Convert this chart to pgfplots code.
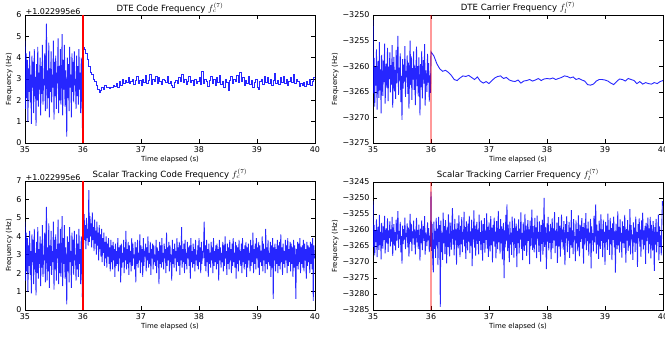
\documentclass[border=0pt]{standalone}
\usepackage{pgfplots}
\usepackage{pgfplotstable}
\pgfplotsset{compat=1.18}
\usepackage{fontspec}
\setmainfont{DejaVu Sans}

% code frequency before DTE start (35.00..35.99), shared by both code plots
\pgfplotstableread[row sep=\\]{y\\
4.8\\1.6\\4.2\\2.1\\3.9\\1.0\\3.5\\2.4\\4.3\\1.9\\
3.2\\0.9\\4.1\\2.6\\3.8\\1.4\\4.4\\2.2\\3.1\\0.8\\
3.7\\2.0\\4.5\\1.7\\3.3\\2.5\\4.0\\1.3\\3.6\\2.3\\
4.6\\1.8\\3.0\\2.7\\4.2\\1.5\\3.9\\5.6\\1.6\\3.4\\
2.1\\4.7\\1.2\\3.5\\2.4\\4.3\\1.9\\3.2\\2.6\\4.8\\
1.1\\3.8\\2.2\\4.1\\1.6\\3.3\\2.8\\4.9\\1.4\\3.6\\
2.0\\4.4\\1.8\\3.1\\5.1\\1.3\\3.9\\2.5\\4.6\\1.7\\
3.4\\2.3\\0.3\\4.0\\2.1\\3.7\\1.5\\4.5\\2.6\\3.2\\
1.2\\4.2\\2.4\\3.8\\1.9\\4.3\\2.7\\3.0\\1.6\\4.1\\
2.2\\3.6\\1.8\\4.4\\2.5\\3.3\\1.4\\4.0\\3.1\\0.7\\
}\codepre

% scalar tracking code frequency (35.99..40.00)
\pgfplotstableread[row sep=\\]{y\\
0.7\\
4.9\\3.6\\5.2\\3.8\\4.6\\3.3\\5.0\\3.9\\4.4\\3.5\\
6.5\\3.7\\5.1\\4.0\\4.7\\3.4\\5.3\\3.8\\4.5\\3.2\\
4.9\\3.6\\4.3\\3.0\\4.8\\3.5\\4.2\\2.7\\4.6\\3.3\\
4.1\\2.9\\4.4\\2.6\\3.9\\3.1\\4.2\\2.4\\3.7\\2.8\\
4.0\\2.3\\3.6\\2.9\\3.9\\2.5\\3.4\\2.1\\3.8\\2.6\\
3.5\\2.2\\3.7\\2.7\\3.3\\1.8\\3.6\\2.4\\3.2\\2.5\\
3.9\\2.1\\3.4\\2.8\\3.5\\1.5\\3.6\\2.3\\3.1\\2.6\\
3.8\\2.0\\3.4\\2.7\\4.3\\2.2\\3.3\\2.5\\3.7\\1.9\\
3.5\\2.6\\3.2\\2.1\\3.9\\2.4\\3.6\\2.8\\3.0\\2.2\\
3.7\\1.5\\3.4\\2.5\\3.8\\2.3\\3.1\\2.7\\4.1\\2.0\\
3.5\\2.6\\3.3\\1.8\\3.9\\2.4\\3.2\\2.9\\3.6\\2.1\\
3.4\\2.7\\4.0\\2.3\\3.1\\2.5\\3.7\\1.9\\3.3\\2.8\\
3.6\\2.2\\3.5\\2.6\\3.0\\2.4\\3.8\\2.0\\3.4\\2.7\\
3.2\\1.4\\3.7\\2.5\\3.5\\2.3\\3.9\\2.6\\3.1\\2.2\\
3.6\\2.8\\3.3\\2.0\\4.2\\2.4\\3.4\\2.7\\3.7\\2.1\\
3.5\\2.6\\3.0\\1.6\\3.8\\2.5\\3.3\\2.3\\3.6\\2.8\\
3.2\\2.1\\3.9\\2.6\\3.4\\2.4\\3.7\\1.9\\3.5\\2.7\\
4.5\\2.3\\3.3\\2.6\\3.6\\2.0\\3.8\\2.5\\3.1\\2.2\\
3.7\\2.8\\3.4\\2.4\\3.5\\1.7\\3.9\\2.6\\3.2\\2.3\\
3.6\\2.5\\3.3\\2.1\\3.8\\2.7\\3.0\\2.4\\3.5\\2.2\\
3.9\\2.6\\3.4\\2.0\\3.7\\2.5\\3.2\\2.8\\3.6\\4.8\\
2.4\\3.5\\2.1\\3.8\\2.6\\3.3\\1.8\\3.6\\2.5\\3.1\\
2.3\\3.7\\2.7\\3.4\\2.0\\3.9\\2.4\\3.2\\2.6\\3.5\\
2.2\\3.6\\2.5\\3.3\\1.6\\3.8\\2.7\\3.4\\2.3\\3.1\\
2.6\\3.7\\2.1\\3.5\\2.4\\4.0\\2.8\\3.2\\1.9\\3.6\\
2.5\\3.4\\2.2\\3.8\\2.7\\3.3\\2.0\\3.6\\2.4\\3.9\\
2.6\\3.1\\2.3\\3.7\\1.7\\3.5\\2.5\\3.4\\2.1\\3.8\\
2.7\\3.2\\2.4\\3.6\\2.0\\3.9\\2.6\\3.3\\2.2\\3.5\\
2.5\\3.7\\1.8\\3.4\\2.3\\3.6\\2.7\\3.1\\2.1\\3.8\\
2.4\\3.5\\2.6\\4.2\\2.0\\3.3\\2.5\\3.6\\2.2\\3.9\\
2.8\\3.4\\2.3\\3.7\\1.9\\3.5\\2.6\\3.2\\2.4\\4.0\\
2.1\\3.6\\2.7\\3.3\\2.0\\4.4\\2.5\\3.4\\2.2\\3.8\\
2.6\\3.1\\2.4\\3.7\\1.8\\3.5\\2.3\\3.9\\0.6\\3.4\\
2.7\\3.6\\2.1\\3.3\\2.5\\3.8\\2.0\\3.5\\2.4\\3.7\\
2.2\\4.1\\2.6\\3.4\\1.9\\3.6\\2.5\\3.2\\2.3\\3.8\\
2.7\\3.5\\2.0\\3.9\\2.4\\3.3\\2.6\\3.7\\2.1\\3.6\\
2.5\\3.4\\1.8\\3.8\\2.3\\3.5\\2.7\\0.6\\3.3\\2.4\\
3.7\\2.2\\3.6\\2.6\\3.9\\2.0\\3.4\\2.5\\3.5\\2.3\\
3.8\\2.1\\3.6\\2.7\\3.3\\1.7\\3.7\\2.4\\3.5\\2.6\\
3.4\\2.0\\3.7\\2.5\\3.6\\2.2\\3.9\\0.5\\3.5\\2.8\\
}\codescalar

% carrier frequency before DTE start (35.00..35.99)
\pgfplotstableread[row sep=\\]{y\\
-3251.0\\-3265.3\\-3258.4\\-3267.9\\-3260.2\\-3263.8\\-3256.7\\-3268.5\\-3261.1\\-3259.0\\
-3266.2\\-3255.3\\-3264.7\\-3260.6\\-3269.2\\-3257.8\\-3262.9\\-3265.8\\-3258.9\\-3263.1\\
-3255.6\\-3267.3\\-3261.7\\-3259.5\\-3264.2\\-3256.4\\-3266.8\\-3260.1\\-3262.5\\-3257.3\\
-3265.1\\-3259.8\\-3263.6\\-3255.9\\-3268.1\\-3261.4\\-3258.2\\-3264.9\\-3260.7\\-3266.4\\
-3256.8\\-3263.3\\-3259.1\\-3254.1\\-3265.6\\-3260.3\\-3262.8\\-3257.5\\-3267.0\\-3261.9\\
-3270.5\\-3258.6\\-3264.4\\-3259.7\\-3263.0\\-3256.1\\-3266.0\\-3260.9\\-3262.2\\-3257.9\\
-3265.4\\-3259.3\\-3268.3\\-3261.6\\-3255.0\\-3263.7\\-3258.1\\-3266.6\\-3260.4\\-3262.6\\
-3257.1\\-3264.6\\-3259.9\\-3267.6\\-3261.2\\-3256.2\\-3263.9\\-3260.0\\-3265.9\\-3258.3\\
-3262.4\\-3269.6\\-3259.6\\-3264.1\\-3257.0\\-3266.3\\-3261.3\\-3258.8\\-3263.4\\-3255.7\\
-3267.7\\-3260.8\\-3262.1\\-3265.0\\-3257.6\\-3263.2\\-3259.4\\-3266.9\\-3261.8\\-3265.2\\
}\carrpre

% scalar tracking carrier frequency (35.99..40.00)
\pgfplotstableread[row sep=\\]{y\\
-3265.2\\
-3248.0\\-3266.5\\-3258.1\\-3269.8\\-3273.2\\-3257.4\\-3265.9\\-3260.3\\-3268.7\\-3256.2\\
-3264.8\\-3259.6\\-3271.0\\-3255.9\\-3263.7\\-3258.5\\-3284.0\\-3257.1\\-3266.8\\-3260.9\\
-3269.3\\-3254.6\\-3264.1\\-3258.8\\-3267.5\\-3256.9\\-3262.7\\-3270.4\\-3259.2\\-3265.3\\
-3255.1\\-3263.9\\-3268.2\\-3257.7\\-3261.5\\-3266.1\\-3258.3\\-3253.2\\-3264.6\\-3260.0\\
-3267.9\\-3256.5\\-3263.2\\-3259.8\\-3270.8\\-3257.9\\-3262.4\\-3265.7\\-3255.4\\-3261.2\\
-3268.5\\-3258.7\\-3264.4\\-3256.0\\-3266.9\\-3260.6\\-3263.0\\-3254.3\\-3265.1\\-3259.1\\
-3269.0\\-3257.3\\-3262.1\\-3266.4\\-3258.0\\-3263.6\\-3255.6\\-3267.2\\-3260.4\\-3264.9\\
-3256.8\\-3271.3\\-3259.5\\-3262.9\\-3253.9\\-3265.5\\-3258.6\\-3268.0\\-3261.0\\-3257.5\\
-3264.3\\-3259.9\\-3267.6\\-3255.2\\-3263.4\\-3260.7\\-3266.3\\-3257.0\\-3262.6\\-3269.6\\
-3258.2\\-3264.0\\-3256.3\\-3267.1\\-3260.2\\-3263.1\\-3254.8\\-3265.8\\-3259.0\\-3268.4\\
-3257.6\\-3262.3\\-3266.7\\-3255.7\\-3264.7\\-3259.3\\-3270.1\\-3258.4\\-3263.5\\-3256.1\\
-3265.2\\-3260.5\\-3268.9\\-3257.2\\-3262.0\\-3266.0\\-3254.0\\-3263.8\\-3259.7\\-3267.4\\
-3256.6\\-3264.2\\-3258.9\\-3269.2\\-3261.4\\-3257.8\\-3275.0\\-3260.1\\-3265.4\\-3255.3\\
-3263.3\\-3252.0\\-3266.6\\-3258.3\\-3262.8\\-3270.0\\-3257.4\\-3264.5\\-3260.8\\-3267.8\\
-3255.8\\-3263.7\\-3259.4\\-3268.6\\-3256.4\\-3262.5\\-3265.6\\-3258.0\\-3271.6\\-3260.3\\
-3264.1\\-3256.7\\-3267.3\\-3259.6\\-3263.0\\-3254.5\\-3265.9\\-3260.9\\-3269.4\\-3257.6\\
-3262.2\\-3266.5\\-3255.0\\-3264.8\\-3258.6\\-3268.1\\-3261.1\\-3256.9\\-3263.4\\-3259.8\\
-3270.7\\-3257.1\\-3265.0\\-3260.0\\-3253.6\\-3266.2\\-3258.8\\-3263.9\\-3267.0\\-3256.2\\
-3264.6\\-3259.2\\-3268.8\\-3255.5\\-3262.7\\-3260.6\\-3266.8\\-3257.3\\-3263.1\\-3269.9\\
-3258.5\\-3264.3\\-3256.8\\-3267.7\\-3261.3\\-3250.0\\-3265.3\\-3259.0\\-3262.9\\-3272.2\\
-3257.9\\-3263.6\\-3255.9\\-3266.4\\-3260.4\\-3264.0\\-3258.1\\-3269.1\\-3261.8\\-3256.4\\
-3265.7\\-3259.5\\-3263.2\\-3254.4\\-3267.2\\-3260.2\\-3264.9\\-3257.7\\-3270.3\\-3262.3\\
-3256.0\\-3265.1\\-3258.7\\-3268.3\\-3261.6\\-3255.2\\-3263.8\\-3259.9\\-3266.1\\-3257.2\\
-3264.4\\-3271.0\\-3258.2\\-3262.6\\-3255.7\\-3266.9\\-3260.7\\-3263.3\\-3257.5\\-3268.7\\
-3259.3\\-3264.7\\-3253.8\\-3265.5\\-3260.1\\-3267.5\\-3256.6\\-3263.0\\-3261.9\\-3269.7\\
-3257.0\\-3264.2\\-3259.7\\-3266.6\\-3255.4\\-3262.1\\-3268.2\\-3258.4\\-3263.7\\-3260.5\\
-3256.3\\-3265.8\\-3259.1\\-3270.5\\-3257.8\\-3264.5\\-3261.2\\-3254.7\\-3266.3\\-3259.6\\
-3263.5\\-3257.4\\-3268.0\\-3260.8\\-3264.1\\-3256.5\\-3272.0\\-3258.9\\-3263.2\\-3261.0\\
-3266.7\\-3255.6\\-3263.9\\-3259.2\\-3252.0\\-3267.4\\-3258.3\\-3264.6\\-3260.3\\-3269.0\\
-3257.1\\-3262.4\\-3265.9\\-3255.1\\-3263.4\\-3259.8\\-3268.5\\-3256.8\\-3264.0\\-3260.6\\
-3270.9\\-3257.5\\-3263.8\\-3258.6\\-3266.2\\-3254.9\\-3262.9\\-3260.0\\-3267.8\\-3256.2\\
-3264.3\\-3259.4\\-3269.4\\-3257.9\\-3263.1\\-3255.8\\-3265.4\\-3260.4\\-3273.3\\-3258.0\\
-3262.7\\-3266.0\\-3254.2\\-3264.8\\-3259.0\\-3267.1\\-3256.7\\-3263.6\\-3260.9\\-3268.6\\
-3257.3\\-3264.1\\-3258.8\\-3265.6\\-3255.3\\-3262.2\\-3270.2\\-3259.7\\-3263.3\\-3256.9\\
-3266.5\\-3260.2\\-3264.9\\-3253.5\\-3267.6\\-3258.5\\-3262.8\\-3261.4\\-3269.3\\-3257.6\\
-3263.9\\-3259.3\\-3266.8\\-3255.8\\-3264.2\\-3260.7\\-3271.5\\-3258.2\\-3262.5\\-3256.4\\
-3265.2\\-3259.9\\-3268.4\\-3257.0\\-3263.0\\-3254.6\\-3266.1\\-3260.1\\-3264.7\\-3258.7\\
-3270.6\\-3257.8\\-3263.5\\-3261.3\\-3256.1\\-3267.3\\-3259.5\\-3264.4\\-3255.9\\-3268.9\\
-3258.4\\-3263.2\\-3266.4\\-3257.2\\-3262.0\\-3272.8\\-3259.1\\-3264.6\\-3256.5\\-3267.0\\
-3260.6\\-3263.7\\-3255.2\\-3269.5\\-3258.9\\-3265.3\\-3261.7\\-3267.9\\-3257.7\\-3251.0\\
}\carrscalar

\pgfplotsset{
  myax/.style={
    scale only axis, width=290bp, height=128bp, anchor=south west,
    xmin=35, xmax=40, xtick={35,36,37,38,39,40},
    /pgf/number format/assume math mode=true,
    tick label style={font=\fontsize{8}{9}\selectfont},
    label style={font=\fontsize{7}{8}\selectfont},
    title style={font=\fontsize{8.6}{10}\selectfont, yshift=-8bp},
    xlabel={Time elapsed (s)}, ylabel={Frequency (Hz)},
    xlabel style={yshift=3bp},
    ylabel style={yshift=-3bp},
    major tick length=4bp,
    tick style={black, line width=0.5pt},
    axis line style={black, line width=0.6pt},
    clip mode=individual,
  },
  noisy/.style={draw=blue, opacity=0.85, line width=0.9pt, mark=none},
  redline/.style={draw={rgb,255:red,255;green,0;blue,0}, line width=1.1pt, mark=none},
  pinkline/.style={draw=red, opacity=0.4, line width=1.6pt, mark=none},
}

\begin{document}
\begin{tikzpicture}
\path[use as bounding box] (0,0) rectangle (665bp,341bp);

% ---------------- top left
\begin{axis}[myax, at={(25bp,198bp)}, ymin=0, ymax=6, ytick={0,1,2,3,4,5,6},
  title={DTE Code Frequency $f_c^{(7)}$}]
\addplot[noisy] table[x expr=35+0.01*\coordindex, y=y] {\codepre};
\addplot[noisy, const plot] coordinates {
(35.99,0.7) (36.000,4.5) (36.025,4.4) (36.050,4.2) (36.075,3.9) (36.100,3.6) (36.125,3.3) (36.150,3.2) (36.175,3.0)
(36.200,2.9) (36.225,2.7) (36.250,2.5) (36.275,2.35) (36.300,2.45) (36.325,2.6) (36.350,2.5) (36.375,2.7)
(36.400,2.6) (36.425,2.6) (36.450,2.55) (36.475,2.6) (36.500,2.6) (36.525,2.7) (36.550,2.65) (36.575,2.8)
(36.600,2.6) (36.625,2.9) (36.650,2.7) (36.675,3.0) (36.700,2.8) (36.725,2.95) (36.750,2.85) (36.775,3.05)
(36.800,2.8) (36.825,2.9) (36.850,3.0) (36.875,2.75) (36.900,2.95) (36.925,3.1) (36.950,2.8) (36.975,2.95)
(37.000,2.7) (37.025,3.0) (37.050,2.85) (37.075,3.15) (37.100,2.8) (37.125,2.95) (37.150,3.2) (37.175,2.75)
(37.200,3.0) (37.225,2.9) (37.250,3.1) (37.275,2.8) (37.300,3.05) (37.325,2.9) (37.350,2.75) (37.375,3.0)
(37.400,2.95) (37.425,2.85) (37.450,3.1) (37.475,2.8) (37.500,2.9) (37.525,2.7) (37.550,2.6) (37.575,2.85)
(37.600,2.95) (37.625,2.8) (37.650,3.05) (37.675,2.9) (37.700,3.2) (37.725,2.85) (37.750,3.0) (37.775,2.75)
(37.800,2.9) (37.825,3.1) (37.850,2.85) (37.875,2.95) (37.900,2.7) (37.925,3.0) (37.950,2.8) (37.975,2.9)
(38.000,3.05) (38.025,2.75) (38.050,3.35) (38.075,2.8) (38.100,3.0) (38.125,2.9) (38.150,2.65) (38.175,2.95)
(38.200,3.1) (38.225,2.8) (38.250,3.0) (38.275,2.7) (38.300,3.05) (38.325,2.85) (38.350,3.15) (38.375,2.75)
(38.400,2.9) (38.425,2.6) (38.450,3.0) (38.475,2.85) (38.500,2.45) (38.525,2.95) (38.550,3.1) (38.575,2.8)
(38.600,3.0) (38.625,2.9) (38.650,3.15) (38.675,2.85) (38.700,3.3) (38.725,2.9) (38.750,3.05) (38.775,2.7)
(38.800,2.95) (38.825,2.8) (38.850,3.1) (38.875,2.75) (38.900,2.95) (38.925,2.6) (38.950,2.85) (38.975,3.0)
(39.000,2.6) (39.025,2.5) (39.050,2.9) (39.075,3.0) (39.100,2.75) (39.125,3.1) (39.150,2.85) (39.175,3.05)
(39.200,2.8) (39.225,3.0) (39.250,2.7) (39.275,2.95) (39.300,3.25) (39.325,2.8) (39.350,2.95) (39.375,2.75)
(39.400,3.05) (39.425,2.85) (39.450,3.1) (39.475,2.8) (39.500,3.0) (39.525,2.7) (39.550,2.9) (39.575,3.05)
(39.600,2.85) (39.625,3.2) (39.650,2.8) (39.675,3.0) (39.700,2.9) (39.725,2.65) (39.750,2.8) (39.775,2.7)
(39.800,2.85) (39.825,2.65) (39.850,2.9) (39.875,2.75) (39.900,3.0) (39.925,2.7) (39.950,2.9) (39.975,3.05)
(40.000,3.1)};
\addplot[redline] coordinates {(36,0) (36,6)};
\node[anchor=south west, inner sep=0.5pt, font=\fontsize{8}{9}\selectfont] at (rel axis cs:0,1) {+1.022995e6};
\end{axis}

% ---------------- top right
\begin{axis}[myax, at={(373bp,198bp)}, ymin=-3275, ymax=-3250,
  ytick={-3275,-3270,-3265,-3260,-3255,-3250},
  yticklabels={−3275,−3270,−3265,−3260,−3255,−3250},
  title={DTE Carrier Frequency $f_l^{(7)}$}]
\addplot[noisy] table[x expr=35+0.01*\coordindex, y=y] {\carrpre};
\addplot[noisy] coordinates {
(35.99,-3265.2) (36.00,-3257.2) (36.05,-3258.0) (36.10,-3259.5) (36.15,-3260.5) (36.20,-3261.0) (36.25,-3260.8)
(36.30,-3261.2) (36.35,-3261.8) (36.40,-3262.6) (36.45,-3262.8) (36.50,-3262.3) (36.55,-3261.9) (36.60,-3262.0)
(36.65,-3261.8) (36.70,-3262.2) (36.75,-3262.6) (36.80,-3262.1) (36.85,-3262.9) (36.90,-3263.3) (36.95,-3263.0)
(37.00,-3263.4) (37.05,-3262.8) (37.10,-3262.3) (37.15,-3262.0) (37.20,-3261.9) (37.25,-3262.4) (37.30,-3262.2)
(37.35,-3262.7) (37.40,-3262.9) (37.45,-3263.0) (37.50,-3262.7) (37.55,-3263.3) (37.60,-3262.9) (37.65,-3262.8)
(37.70,-3262.6) (37.75,-3262.9) (37.80,-3262.7) (37.85,-3262.4) (37.90,-3262.8) (37.95,-3262.5) (38.00,-3262.4)
(38.05,-3262.5) (38.10,-3262.3) (38.15,-3262.6) (38.20,-3262.4) (38.25,-3262.2) (38.30,-3261.9) (38.35,-3262.0)
(38.40,-3262.3) (38.45,-3262.1) (38.50,-3262.6) (38.55,-3262.4) (38.60,-3262.7) (38.65,-3262.9) (38.70,-3263.6)
(38.75,-3263.7) (38.80,-3263.5) (38.85,-3262.9) (38.90,-3262.6) (38.95,-3262.6) (39.00,-3262.7) (39.05,-3262.9)
(39.10,-3263.3) (39.15,-3263.6) (39.20,-3263.0) (39.25,-3262.5) (39.30,-3262.6) (39.35,-3262.9) (39.40,-3262.4)
(39.45,-3262.6) (39.50,-3262.8) (39.55,-3263.4) (39.60,-3263.0) (39.65,-3263.5) (39.70,-3263.2) (39.75,-3263.4)
(39.80,-3263.5) (39.85,-3263.2) (39.90,-3263.4) (39.95,-3263.0) (40.00,-3262.8)};
\addplot[pinkline] coordinates {(36,-3275) (36,-3250)};
\end{axis}

% ---------------- bottom left
\begin{axis}[myax, at={(25bp,31bp)}, height=129bp, ymin=0, ymax=7, ytick={0,1,2,3,4,5,6,7},
  title={Scalar Tracking Code Frequency $f_c^{(7)}$}]
\addplot[noisy] table[x expr=35+0.01*\coordindex, y=y] {\codepre};
\addplot[noisy] table[x expr=35.99+0.01*\coordindex, y=y] {\codescalar};
\addplot[redline] coordinates {(36,0) (36,7)};
\node[anchor=south west, inner sep=0.5pt, font=\fontsize{8}{9}\selectfont] at (rel axis cs:0,1) {+1.022995e6};
\end{axis}

% ---------------- bottom right
\begin{axis}[myax, at={(373bp,31bp)}, ymin=-3285, ymax=-3245,
  ytick={-3285,-3280,-3275,-3270,-3265,-3260,-3255,-3250,-3245},
  yticklabels={−3285,−3280,−3275,−3270,−3265,−3260,−3255,−3250,−3245},
  title={Scalar Tracking Carrier Frequency $f_l^{(7)}$}]
\addplot[noisy] table[x expr=35+0.01*\coordindex, y=y] {\carrpre};
\addplot[noisy] table[x expr=35.99+0.01*\coordindex, y=y] {\carrscalar};
\addplot[pinkline] coordinates {(36,-3285) (36,-3245)};
\end{axis}
\end{tikzpicture}
\end{document}
